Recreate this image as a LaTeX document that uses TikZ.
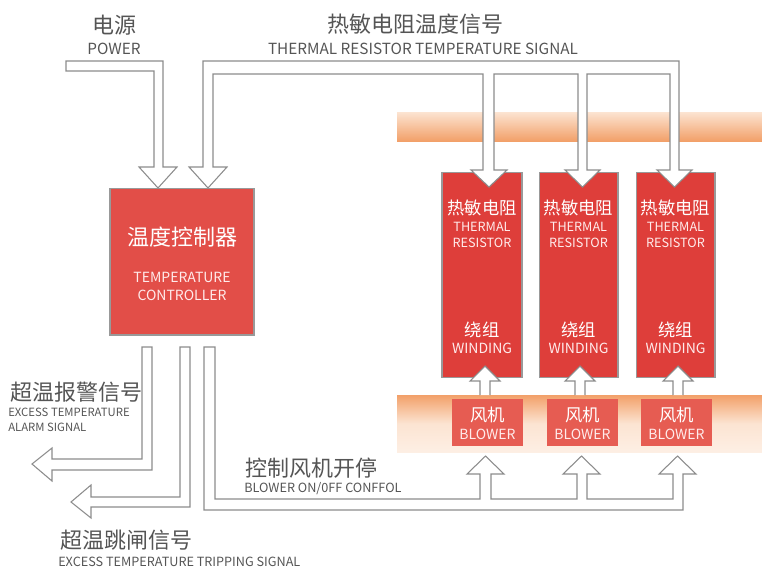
\documentclass[tikz,border=0pt]{standalone}
\usepackage{fontspec}
\setmainfont{Noto Sans CJK SC}
\definecolor{txtgray}{RGB}{85,85,85}
\definecolor{linegray}{RGB}{140,140,140}
\definecolor{boxred}{RGB}{222,62,58}
\definecolor{ctrlred}{RGB}{226,78,72}
\definecolor{blowred}{RGB}{230,92,82}
\definecolor{bandorange}{RGB}{242,160,105}
\definecolor{bandpale}{RGB}{252,228,210}
\tikzset{
  zh/.style={text=txtgray,font=\fontsize{16.5}{18}\selectfont,inner sep=0pt},
  en/.style={text=txtgray,font=\fontsize{11.5}{13}\selectfont,inner sep=0pt},
  ensmall/.style={text=txtgray,font=\fontsize{8.5}{10}\selectfont,inner sep=0pt},
  boxzh/.style={text=white,font=\fontsize{13}{15}\selectfont,inner sep=0pt},
  boxen/.style={text=white!92!red,font=\fontsize{9.5}{11}\selectfont,inner sep=0pt},
  blockarrow/.style={draw=linegray,fill=white,line width=0.8pt,line join=miter},
  redbox/.style={draw=gray!80,line width=1pt,fill=boxred,inner sep=0pt}
}
\begin{document}
\begin{tikzpicture}[x=0.75pt,y=-0.75pt]
\useasboundingbox (0,0) rectangle (762,569);

      % bands
      \shade[top color=bandpale,bottom color=bandorange] (397,112) rectangle (762,141);
      \shade[top color=bandorange,bottom color=bandpale!60,middle color=bandpale] (397,395) rectangle (762,452);

      % boxes
      \begin{scope}[every node/.style={redbox}]
        \node[fill=ctrlred,minimum width=108pt,minimum height=110pt] (ctrl) at (182,261.5) {};
        \node[minimum width=60pt,minimum height=154pt] (res1) at (482,275) {};
        \node[minimum width=59pt,minimum height=154pt] (res2) at (578.5,275) {};
        \node[minimum width=59pt,minimum height=154pt] (res3) at (675.5,275) {};
        \node[draw=none,fill=blowred,minimum width=53pt,minimum height=35pt] (blow1) at (487.5,422.5) {};
        \node[draw=none,fill=blowred,minimum width=53pt,minimum height=35pt] (blow2) at (582.5,422.5) {};
        \node[draw=none,fill=blowred,minimum width=53pt,minimum height=35pt] (blow3) at (676.5,422.5) {};
      \end{scope}

      % block arrows
      \draw[blockarrow] (66,61) -- (163,61) -- (163,167) -- (177,167) -- (158,188)
        -- (139,167) -- (154,167) -- (154,71) -- (66,71) -- cycle;
      \draw[blockarrow] (189,167) -- (208,188) -- (227,167) -- (213,167) -- (213,74)
        -- (483,74) -- (483,170) -- (471,170) -- (489,187) -- (507,170) -- (494,170) -- (494,74)
        -- (578,74) -- (578,170) -- (565,170) -- (582.5,187) -- (600,170) -- (587,170) -- (587,74)
        -- (670,74) -- (670,170) -- (657,170) -- (674.5,187) -- (692,170) -- (679,170)
        -- (679,61) -- (203,61) -- (203,167) -- cycle;
      \draw[blockarrow] (142,347) -- (142,459) -- (52,459) -- (52,448) -- (32,464) -- (52,481)
        -- (52,470) -- (152,470) -- (152,347) -- cycle;
      \draw[blockarrow] (180,347) -- (180,497) -- (91,497) -- (91,485) -- (71,502) -- (91,518)
        -- (91,507) -- (190,507) -- (190,347) -- cycle;
      \draw[blockarrow] (204,347) -- (204,510) -- (683,510) -- (683,474) -- (696,474) -- (677.5,456)
        -- (659,474) -- (673,474) -- (673,499) -- (587,499) -- (587,474) -- (600,474) -- (581.5,456)
        -- (563,474) -- (577,474) -- (577,499) -- (491,499) -- (491,474) -- (504,474) -- (485.5,456)
        -- (467,474) -- (480,474) -- (480,499) -- (215,499) -- (215,347) -- cycle;
      \draw[blockarrow] (480,395) -- (480,381) -- (470,381) -- (485,366) -- (500,381) -- (490,381) -- (490,395);
      \draw[blockarrow] (575,395) -- (575,381) -- (565,381) -- (580,366) -- (595,381) -- (585,381) -- (585,395);
      \draw[blockarrow] (673,395) -- (673,381) -- (663,381) -- (678,366) -- (693,381) -- (683,381) -- (683,395);

      % labels
      \node[zh] (pwrzh) at (114,25) {电源};
      \node[en] (pwren) at (114,49) {POWER};
      \node[zh] (sigzh) at (415,24) {热敏电阻温度信号};
      \node[en] (sigen) at (423,49) {THERMAL RESISTOR TEMPERATURE SIGNAL};

      \node[boxzh,font=\fontsize{16.5}{18}\selectfont] (ctrlzh) at (182,237) {温度控制器};
      \node[boxen,font=\fontsize{10.5}{12}\selectfont,align=center] (ctrlen) at (182,286.5) {TEMPERATURE\\[1pt]CONTROLLER};

      \foreach \n in {1,2,3} {
        \node[boxzh] (reszh\n) at ([yshift=50.25pt]res\n.center) {热敏电阻};
        \node[boxen,align=center] (resen\n) at ([yshift=30pt]res\n.center) {THERMAL\\[0.5pt]RESISTOR};
        \node[boxzh] (windzh\n) at ([yshift=-41.25pt]res\n.center) {绕组};
        \node[boxen,font=\fontsize{10.5}{12}\selectfont] (winden\n) at ([yshift=-54.75pt]res\n.center) {WINDING};
        \node[boxzh] (blowzh\n) at ([yshift=5.6pt]blow\n.center) {风机};
        \node[boxen,font=\fontsize{10.5}{12}\selectfont] (blowen\n) at ([yshift=-8.6pt]blow\n.center) {BLOWER};
      }

      \node[zh,anchor=west] (alarmzh) at (10,392) {超温报警信号};
      \node[ensmall,anchor=west,align=left] (alarmen) at (8,420) {EXCESS TEMPERATURE\\[1pt]ALARM SIGNAL};
      \node[zh,anchor=west] (fanzh) at (245,468) {控制风机开停};
      \node[ensmall,font=\fontsize{9.5}{11}\selectfont,anchor=west] (fanen) at (244,489) {BLOWER ON/0FF CONFFOL};
      \node[zh,anchor=west] (tripzh) at (60,540) {超温跳闸信号};
      \node[ensmall,font=\fontsize{9.5}{11}\selectfont,anchor=west] (tripen) at (58,562) {EXCESS TEMPERATURE TRIPPING SIGNAL};

    \end{tikzpicture}
\end{document}
